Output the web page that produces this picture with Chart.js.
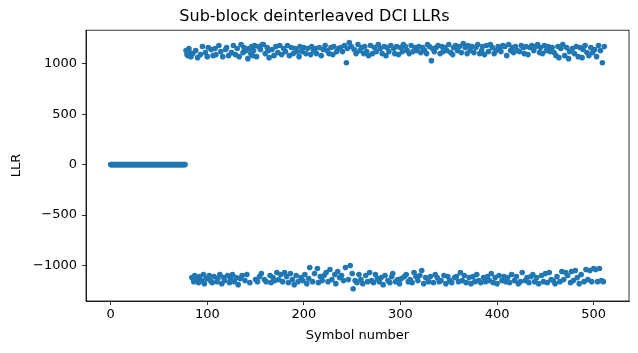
<!DOCTYPE html>
<html>
<head>
<meta charset="utf-8">
<script src="https://cdn.jsdelivr.net/npm/chart.js@4"></script>
<style>
  body { margin: 0; background: #fff; }
  canvas { display: block; }
</style>
</head>
<body>
<canvas id="llrChart" width="638" height="353"></canvas>
<script>
// symbols 0..77 are not transmitted, LLR = 0
const zeroLlrs = [
    0, 0, 0, 0, 0, 0, 0, 0, 0, 0, 0, 0, 0, 0, 0, 0, 0, 0, 0, 0,
    0, 0, 0, 0, 0, 0, 0, 0, 0, 0, 0, 0, 0, 0, 0, 0, 0, 0, 0, 0,
    0, 0, 0, 0, 0, 0, 0, 0, 0, 0, 0, 0, 0, 0, 0, 0, 0, 0, 0, 0,
    0, 0, 0, 0, 0, 0, 0, 0, 0, 0, 0, 0, 0, 0, 0, 0, 0, 0
];

// symbols 78..511
const codedLlrs = [
    1130, 1090, 1080, 1150, 1110, 1070, -1120, 1100, -1160, -1100, 1130, -1140, 1060, -1170, -1110, 1090, -1150, 1170, -1090, -1180,
    1110, -1130, 1070, 1160, -1100, -1150, 1140, -1170, 1080, -1110, 1150, 1090, -1160, -1130, 1180, -1090, 1120, -1180, 1070, -1120,
    -1150, 1140, 1160, -1100, 1080, -1170, -1130, 1110, -1090, 1180, -1160, 1090, -1120, 1150, -1190, 1070, -1130, 1190, -1100, 1110,
    1160, -1150, 1130, -1090, 1050, 1150, -1170, 1100, 1170, 1080, 1130, 1180, -1140, 1070, -1160, 1170, -1110, 1140, -1080, 1190,
    1190, -1140, 1100, -1160, 1160, 1130, 1060, -1100, -1170, 1140, -1120, 1080, -1150, 1170, -1070, 1110, -1140, 1180, -1090, 1090,
    -1160, 1150, -1070, 1120, -1110, 1180, -1170, 1080, -1080, 1160, -1140, 1100, -1190, 1150, -1100, 1120, -1160, 1070, 1170, -1120,
    1120, -1150, 1160, -1090, 1100, -1180, 1150, -1130, -1020, 1090, 1170, -1160, 1130, -1080, 1150, 1100, -1030, -1170, 1160, -1110,
    1080, -1150, 1140, -1100, 1180, -1070, 1130, -1160, 1100, -1040, 1160, -1140, 1090, 1170, -1090, -1180, 1120, -1060, 1150, -1120,
    1160, -1100, 1120, -1150, 1180, -1020, 1010, 1150, -1140, 1210, -1000, 1170, -1080, -1230, 1140, -1150, 1100, -1170, 1190, -1090,
    1130, -1140, 1160, -1180, 1100, 1170, -1100, 1120, -1160, 1080, -1070, 1180, -1150, 1100, -1170, 1160, -1090, 1120, -1130, 1190,
    -1160, 1150, -1120, 1100, -1190, 1170, -1100, 1080, 1160, -1150, 1120, -1170, 1180, -1110, -1080, 1150, 1100, -1160, 1170, -1140,
    1090, -1180, 1160, -1130, 1120, 1190, -1110, 1170, -1090, 1130, -1160, 1100, -1140, 1180, -1170, 1120, -1070, 1160, -1110, 1130,
    -1150, 1170, -1100, 1110, -1050, 1160, -1180, 1130, -1120, 1100, 1190, -1160, 1170, -1110, 1030, 1150, -1170, 1120, -1090, 1160,
    -1120, 1180, -1160, 1100, -1150, 1170, 1120, -1100, 1160, -1180, 1130, -1110, 1190, -1150, 1110, -1170, 1090, 1160, -1120, 1180,
    -1110, 1130, -1160, 1170, -1070, 1110, -1150, 1200, -1100, 1160, -1170, 1100, 1180, -1120, 1130, -1180, 1170, -1110, 1110, -1160,
    1160, -1090, 1190, -1150, 1100, -1170, 1130, 1170, -1120, 1090, -1160, 1180, -1110, 1120, -1150, 1190, -1080, 1160, -1170, 1100,
    -1120, 1130, -1180, 1170, -1100, 1160, 1120, -1150, 1180, -1110, 1170, -1160, 1080, -1120, 1190, -1170, 1130, -1090, 1160, 1110,
    -1150, 1170, -1110, 1130, -1180, 1120, -1160, 1180, -1070, 1160, 1100, -1150, 1170, -1120, 1090, -1170, 1160, -1110, 1180, -1090,
    1130, -1160, 1170, -1120, 1190, -1180, 1110, 1160, -1100, 1100, -1160, 1180, -1080, 1130, -1170, 1170, -1070, 1120, -1140, 1160,
    -1150, 1110, -1180, 1080, -1110, 1170, 1060, -1160, 1150, -1060, 1190, -1140, 1080, -1070, 1160, -1100, 1050, 1120, -1170, -1060,
    1150, -1150, 1100, -1050, 1170, -1120, 1070, -1180, 1160, -1090, 1060, 1140, -1160, 1180, -1040, 1110, -1140, 1080, -1050, 1160,
    -1160, 1110, -1030, 1140, -1040, 1070, -1160, 1180, -1030, 1130, -1150, 1010, -1160, 1170
];

const xTicks = [0, 100, 200, 300, 400, 500];
const yTicks = [-1000, -500, 0, 500, 1000];

const llrs = zeroLlrs.concat(codedLlrs);
const points = llrs.map((v, i) => ({ x: i, y: v }));

const fontFamily = "'DejaVu Sans', sans-serif";

// matplotlib style frame: box all round the axes
const frameBox = {
    id: 'frameBox',
    afterDraw(chart) {
        const a = chart.chartArea;
        const ctx = chart.ctx;
        ctx.save();
        ctx.strokeStyle = '#000';
        ctx.lineWidth = 0.8;
        ctx.strokeRect(a.left, a.top, a.right - a.left, a.bottom - a.top);
        ctx.restore();
    }
};

const ctx = document.getElementById('llrChart').getContext('2d');
new Chart(ctx, {
    type: 'scatter',
    data: {
        datasets: [{
            data: points,
            backgroundColor: '#1f77b4',
            borderWidth: 0,
            pointRadius: 2.8,
            pointHoverRadius: 2.8
        }]
    },
    options: {
        responsive: false,
        animation: false,
        layout: { padding: { left: 0, right: 9, top: 0, bottom: 0 } },
        plugins: {
            legend: { display: false },
            tooltip: { enabled: false },
            title: {
                display: true,
                text: 'Sub-block deinterleaved DCI LLRs',
                color: '#000',
                font: { family: fontFamily, size: 16, weight: 'normal' },
                padding: { top: 7, bottom: 4 }
            }
        },
        scales: {
            x: {
                type: 'linear',
                min: -25.55,
                max: 536.55,
                afterBuildTicks: s => { s.ticks = xTicks.map(v => ({ value: v })); },
                afterFit: s => { s.height = 52; },
                border: { color: '#000', width: 0.8 },
                grid: { drawOnChartArea: false, drawTicks: true, tickLength: 4, color: '#000', lineWidth: 0.8 },
                ticks: { color: '#000', padding: 2, maxRotation: 0, font: { family: fontFamily, size: 13 } },
                title: {
                    display: true,
                    text: 'Symbol number',
                    color: '#000',
                    font: { family: fontFamily, size: 13 },
                    padding: { top: 0, bottom: 10 }
                }
            },
            y: {
                type: 'linear',
                min: -1352,
                max: 1332,
                afterBuildTicks: s => { s.ticks = yTicks.map(v => ({ value: v })); },
                afterFit: s => { s.width = 86; },
                border: { color: '#000', width: 0.8 },
                grid: { drawOnChartArea: false, drawTicks: true, tickLength: 4, color: '#000', lineWidth: 0.8 },
                ticks: {
                    color: '#000',
                    padding: 5,
                    font: { family: fontFamily, size: 13 },
                    callback: v => String(v).replace('-', '\u2212')
                },
                title: {
                    display: true,
                    text: 'LLR',
                    color: '#000',
                    font: { family: fontFamily, size: 13 },
                    padding: { top: 9, bottom: 0 }
                }
            }
        }
    },
    plugins: [frameBox]
});
</script>
</body>
</html>
